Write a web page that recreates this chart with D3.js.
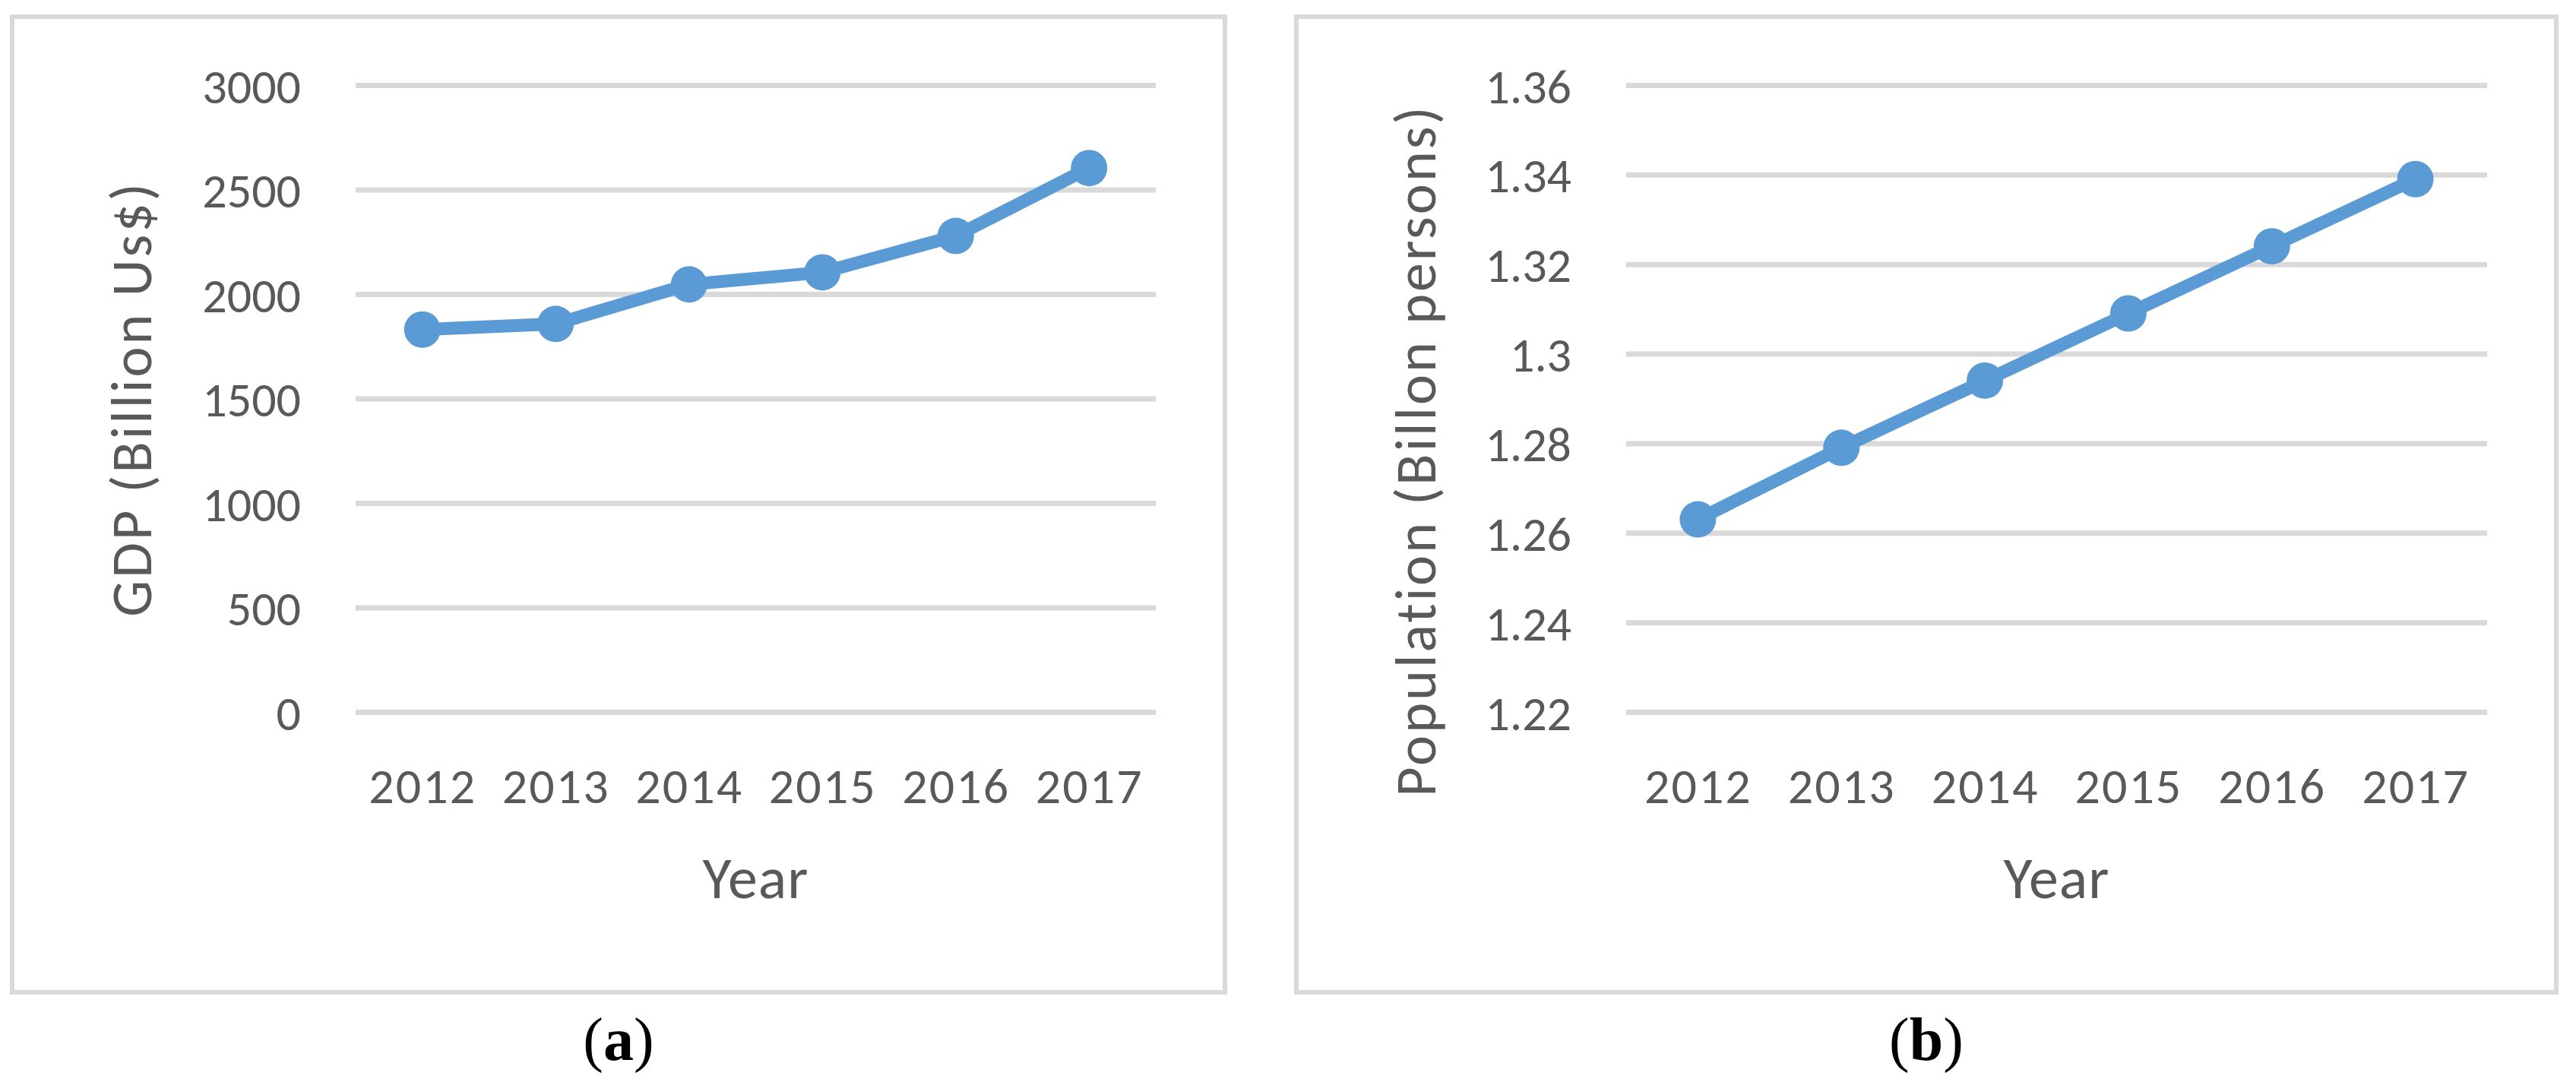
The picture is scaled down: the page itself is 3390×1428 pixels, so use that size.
<!DOCTYPE html>
<html>
<head>
<meta charset="utf-8">
<title>GDP and Population</title>
<script src="https://d3js.org/d3.v7.min.js"></script>
<style>
  body { margin: 0; background: #fff; }
  .tick text { fill: #595959; font-family: Carlito, Calibri, Lato, sans-serif; font-feature-settings: "tnum"; }
  .grid line { stroke: #d9d9d9; stroke-width: 7; }
</style>
</head>
<body>
<script>
// data
var years = ["2012", "2013", "2014", "2015", "2016", "2017"];
var gdp = [1830, 1857, 2046, 2104, 2278, 2603];
var population = [1.263, 1.279, 1.294, 1.309, 1.324, 1.339];
var gdpTicks = [0, 500, 1000, 1500, 2000, 2500, 3000];
var gdpTickLabels = ["0", "500", "1000", "1500", "2000", "2500", "3000"];
var popTicks = [1.22, 1.24, 1.26, 1.28, 1.30, 1.32, 1.34, 1.36];
var popTickLabels = ["1.22", "1.24", "1.26", "1.28", "1.3", "1.32", "1.34", "1.36"];

var W = 3390, H = 1428;
var lineColor = "#5b9bd5";
var textColor = "#595959";
var font = "Carlito, Calibri, Lato, sans-serif";

var svg = d3.select("body").append("svg")
  .attr("width", W)
  .attr("height", H);

function drawPanel(p) {
  var g = svg.append("g");

  // outer frame
  g.append("rect")
    .attr("x", p.left).attr("y", 22)
    .attr("width", p.right - p.left).attr("height", 1306 - 22)
    .attr("fill", "none")
    .attr("stroke", "#d9d9d9")
    .attr("stroke-width", 6);

  var x = d3.scalePoint()
    .domain(years)
    .range([p.x0, p.x1])
    .padding(0.5);

  var y = d3.scaleLinear()
    .domain([p.ticks[0], p.ticks[p.ticks.length - 1]])
    .range([937, 112]);

  // y axis with gridlines
  var yAxis = d3.axisLeft(y)
    .tickValues(p.ticks)
    .tickSize(-(p.x1 - p.x0))
    .tickPadding(72)
    .tickFormat(function(d, i) { return p.labels[i]; });

  var ya = g.append("g")
    .attr("class", "grid")
    .attr("transform", "translate(" + p.x0 + ",0)")
    .call(yAxis);
  ya.select(".domain").remove();
  ya.selectAll("text")
    .attr("font-size", 64)
    .attr("dy", "0.36em");

  // x axis labels
  var xAxis = d3.axisBottom(x).tickSize(0).tickPadding(0);
  var xa = g.append("g")
    .attr("transform", "translate(0,937)")
    .call(xAxis);
  xa.select(".domain").remove();
  xa.selectAll("text")
    .attr("font-size", 66)
    .attr("letter-spacing", 2)
    .attr("y", 120)
    .attr("dy", 0);

  // axis titles
  g.append("text")
    .attr("x", (p.x0 + p.x1) / 2)
    .attr("y", 1182)
    .attr("text-anchor", "middle")
    .attr("fill", textColor)
    .attr("font-family", font)
    .attr("font-size", 78)
    .attr("letter-spacing", 1)
    .text("Year");

  g.append("text")
    .attr("transform", "translate(" + (p.left + 183) + "," + p.titleY + ") rotate(-90)")
    .attr("text-anchor", "middle")
    .attr("fill", textColor)
    .attr("font-family", font)
    .attr("font-size", 76)
    .attr("letter-spacing", 3)
    .text(p.title);

  // line and markers
  var line = d3.line()
    .x(function(d, i) { return x(years[i]); })
    .y(function(d) { return y(d); });

  g.append("path")
    .datum(p.values)
    .attr("d", line)
    .attr("fill", "none")
    .attr("stroke", lineColor)
    .attr("stroke-width", 17)
    .attr("stroke-linejoin", "round");

  g.selectAll("circle.pt")
    .data(p.values)
    .enter()
    .append("circle")
    .attr("class", "pt")
    .attr("cx", function(d, i) { return x(years[i]); })
    .attr("cy", function(d) { return y(d); })
    .attr("r", 24)
    .attr("fill", lineColor);

  // caption (a) / (b)
  var cap = g.append("text")
    .attr("x", (p.left + p.right) / 2)
    .attr("y", 1395)
    .attr("text-anchor", "middle")
    .attr("font-family", "'Liberation Serif', 'Times New Roman', serif")
    .attr("font-size", 80)
    .attr("fill", "#000");
  cap.append("tspan").text("(");
  cap.append("tspan").attr("font-weight", "bold").text(p.letter);
  cap.append("tspan").text(")");
}

drawPanel({
  left: 16, right: 1612, x0: 468, x1: 1521,
  ticks: gdpTicks, labels: gdpTickLabels, values: gdp,
  title: "GDP (Billion Us$)", titleY: 525, letter: "a"
});

drawPanel({
  left: 1706, right: 3364, x0: 2140, x1: 3273,
  ticks: popTicks, labels: popTickLabels, values: population,
  title: "Population (Billon persons)", titleY: 593, letter: "b"
});
</script>
</body>
</html>
